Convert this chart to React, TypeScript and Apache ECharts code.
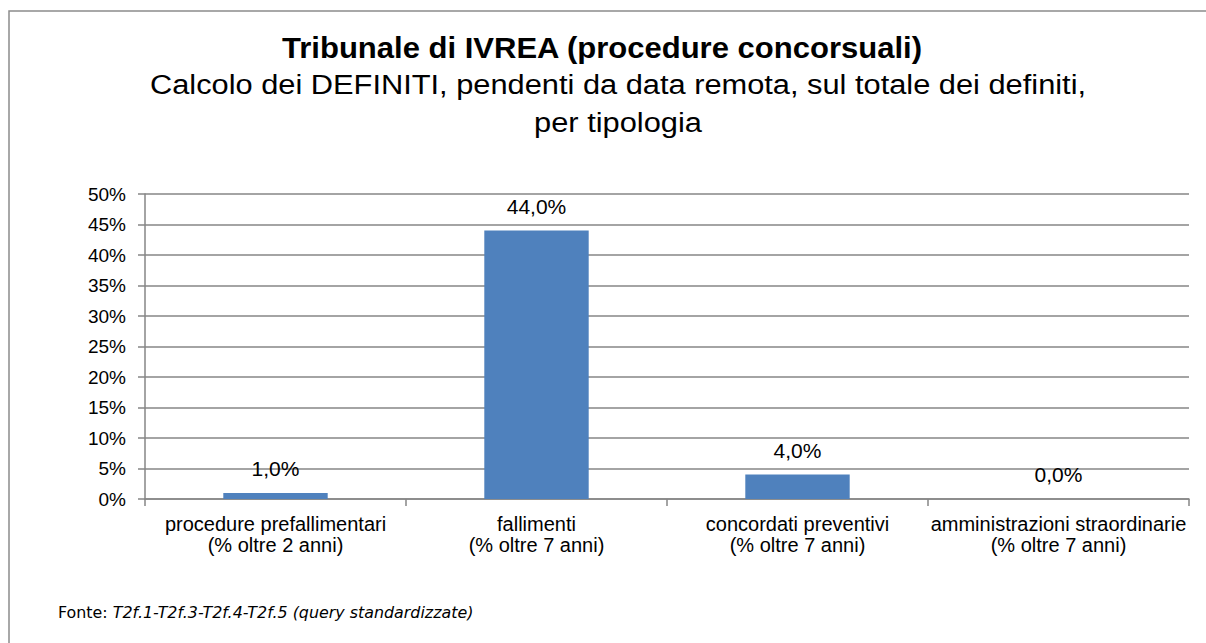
import React, { useEffect, useRef } from "react";
import * as echarts from "echarts";

const categories = [
  "procedure prefallimentari\n(% oltre 2 anni)",
  "fallimenti\n(% oltre 7 anni)",
  "concordati preventivi\n(% oltre 7 anni)",
  "amministrazioni straordinarie\n(% oltre 7 anni)",
];
const values = [0.01, 0.44, 0.04, 0.0];
const titleText = "Tribunale di IVREA (procedure concorsuali)";
const subtitleLines = [
  "Calcolo dei DEFINITI, pendenti da data remota, sul totale dei definiti,",
  "per tipologia",
];
const sourceLabel = "Fonte: ";
const sourceText = "T2f.1-T2f.3-T2f.4-T2f.5 (query standardizzate)";

const AXIS = "#868686";
const FONT = "'Liberation Sans', Arial, sans-serif";
const VFONT = "'DejaVu Sans', Verdana, sans-serif";

export default function App() {
  const ref = useRef<HTMLDivElement>(null);
  useEffect(() => {
    if (!ref.current) return;
    const chart = echarts.init(ref.current, null, { renderer: "svg" });
    chart.setOption({
      animation: false,
      backgroundColor: "#ffffff",
      textStyle: { fontFamily: FONT },
      grid: { left: 145, right: 17, top: 194, bottom: 144, containLabel: false },
      xAxis: {
        type: "category",
        data: categories,
        axisLine: { lineStyle: { color: AXIS, width: 1.5 } },
        axisTick: { show: true, length: 7, lineStyle: { color: AXIS, width: 1.5 } },
        axisLabel: {
          color: "#000",
          fontSize: 20,
          lineHeight: 21,
          margin: 14,
          fontFamily: FONT,
          interval: 0,
        },
      },
      yAxis: {
        type: "value",
        min: 0,
        max: 0.5,
        interval: 0.05,
        axisLine: { show: true, lineStyle: { color: AXIS, width: 1.5 } },
        axisTick: { show: true, length: 7, lineStyle: { color: AXIS, width: 1.5 } },
        splitLine: { show: true, lineStyle: { color: AXIS, width: 1.5 } },
        axisLabel: {
          color: "#000",
          fontSize: 19,
          margin: 19,
          fontFamily: FONT,
          formatter: (v: number) => Math.round(v * 100) + "%",
        },
      },
      series: [
        {
          type: "bar",
          data: values,
          barWidth: "40%",
          itemStyle: { color: "#4f81bd" },
          label: {
            show: true,
            position: "top",
            distance: 14,
            color: "#000",
            fontSize: 21,
            fontFamily: FONT,
            formatter: (p: any) => (p.value * 100).toFixed(1).replace(".", ",") + "%",
          },
        },
      ],
      graphic: [
        {
          type: "rect",
          shape: { x: 9, y: 11, width: 1400, height: 800 },
          style: { fill: "none", stroke: "#8c8c8c", lineWidth: 1.5 },
          silent: true,
        },
        {
          type: "text",
          x: 602,
          y: 48,
          scaleX: 1.07,
          style: {
            text: titleText,
            fontSize: 29,
            fontWeight: "bold",
            fontFamily: FONT,
            fill: "#000",
            textAlign: "center",
            textVerticalAlign: "middle",
          },
        },
        {
          type: "text",
          x: 618,
          y: 84,
          scaleX: 1.1,
          style: {
            text: subtitleLines[0],
            fontSize: 28,
            fontFamily: FONT,
            fill: "#000",
            textAlign: "center",
            textVerticalAlign: "middle",
          },
        },
        {
          type: "text",
          x: 618,
          y: 122,
          scaleX: 1.1,
          style: {
            text: subtitleLines[1],
            fontSize: 28,
            fontFamily: FONT,
            fill: "#000",
            textAlign: "center",
            textVerticalAlign: "middle",
          },
        },
        {
          type: "text",
          x: 58,
          y: 613,
          scaleX: 1.06,
          style: {
            text: "{n|" + sourceLabel + "}{i|" + sourceText + "}",
            textVerticalAlign: "middle",
            rich: {
              n: { fontSize: 15, fontFamily: VFONT, fill: "#000" },
              i: { fontSize: 15, fontStyle: "italic", fontFamily: VFONT, fill: "#000" },
            },
          },
        },
      ],
    });
    return () => chart.dispose();
  }, []);
  return (
    <div
      ref={ref}
      style={{ position: "absolute", left: 0, top: 0, width: 1206, height: 643 }}
    />
  );
}
